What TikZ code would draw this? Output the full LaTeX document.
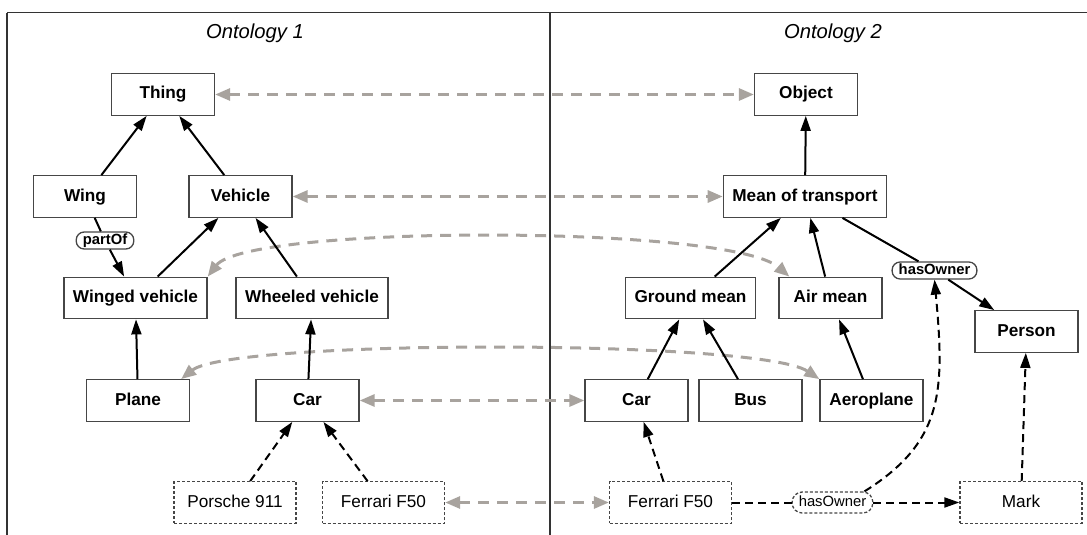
\documentclass[tikz,border=0pt]{standalone}
\usepackage{xcolor}
\usepackage{fontspec}
\setmainfont{Liberation Sans}
\usepackage{tikz}
\usetikzlibrary{arrows.meta}

\definecolor{mapgray}{RGB}{168,163,158}
\definecolor{boxline}{RGB}{70,70,70}

\tikzset{
    cls/.style={draw=boxline, line width=0.65pt, fill=white, minimum width=51.5pt, minimum height=20.75pt, inner xsep=4.5pt, inner ysep=0pt, text height=6.3pt, text depth=1.8pt, font=\fontsize{8.6}{10}\selectfont\bfseries},
    inst/.style={draw=boxline, line width=0.65pt, dash pattern=on 1.5pt off 1pt, fill=white, minimum width=61pt, minimum height=20.75pt, inner sep=0pt, text height=6.3pt, text depth=1.8pt, font=\fontsize{8.6}{10}\selectfont},
    rel/.style={draw=boxline, line width=0.65pt, rounded corners=4pt, fill=white, inner xsep=3.3pt, inner ysep=0pt, minimum height=8.5pt, text height=5.3pt, text depth=1.5pt, font=\fontsize{7.4}{8}\selectfont\bfseries},
    relinst/.style={rel, dash pattern=on 1.5pt off 1pt, rounded corners=5pt, minimum height=10.5pt, font=\fontsize{7.4}{8}\selectfont},
    title/.style={font=\fontsize{10.1}{12}\selectfont\itshape},
    frame/.style={draw=black!80, line width=0.75pt},
    isa/.style={draw=black, line width=1pt, -{Triangle[length=7.5pt,width=5pt]}},
    io/.style={isa, dash pattern=on 4pt off 2.5pt},
    map/.style={draw=mapgray, line width=1.5pt, dash pattern=on 5.5pt off 4pt, {Triangle[length=7.5pt,width=6pt]}-{Triangle[length=7.5pt,width=6pt]}}
}

\begin{document}
\begin{tikzpicture}[x=0.5pt, y=-0.5pt]
    \useasboundingbox (0,0) rectangle (1087,535);

    % Frame
    \draw[frame] (7,12.7) -- (1087,12.7);
    \draw[frame] (7,12.7) -- (7,535);
    \draw[frame] (550,12.7) -- (550,535);
    \node[title] (ontA) at (255,33) {Ontology 1};
    \node[title] (ontB) at (833,33) {Ontology 2};

    % Ontology 1
    \node[cls] (thing) at (163,94.5) {Thing};
    \node[cls] (wing) at (85,196.5) {Wing};
    \node[cls] (vehicle) at (240.5,196.5) {Vehicle};
    \node[cls] (winged) at (135.5,298) {Winged vehicle};
    \node[cls] (wheeled) at (312,298) {Wheeled vehicle};
    \node[cls] (plane) at (138,400.5) {Plane};
    \node[cls] (carA) at (307.5,400.5) {Car};
    \node[inst] (porsche) at (235,502.5) {Porsche 911};
    \node[inst] (ferrariA) at (383.5,502.5) {Ferrari F50};
    \node[rel] (partof) at (105,240.5) {partOf};

    % Ontology 2
    \node[cls] (object) at (806,94.5) {Object};
    \node[cls] (transport) at (805,196.5) {Mean of transport};
    \node[cls] (ground) at (690.5,298) {Ground mean};
    \node[cls] (air) at (830.5,298) {Air mean};
    \node[cls] (person) at (1026.5,331.5) {Person};
    \node[cls] (carB) at (636.5,400.5) {Car};
    \node[cls] (bus) at (750.5,400.5) {Bus};
    \node[cls] (aeroplane) at (871.5,400.5) {Aeroplane};
    \node[inst] (ferrariB) at (670.5,502.5) {Ferrari F50};
    \node[inst] (mark) at (1021,502.5) {Mark};
    \node[rel] (ownA) at (934.5,270.5) {hasOwner};
    \node[relinst] (ownB) at (832.5,502.5) {hasOwner};

    % Mappings
    \draw[map] (thing) -- (object);
    \draw[map] (vehicle) -- (transport);
    \draw[map] (winged.north east) .. controls +(40,-52) and +(-60,-52) .. ([xshift=5.5pt]air.north west);
    \draw[map] ([xshift=-4.5pt]plane.north east) .. controls +(50,-40) and +(-60,-40) .. (aeroplane.north west);
    \draw[map] (carA) -- (carB);
    \draw[map] (ferrariA) -- (ferrariB);

    % Subclass edges
    \draw[isa] (wing) -- (thing);
    \draw[isa] (vehicle) -- (thing);
    \draw[isa, -] (wing) -- (partof);
    \draw[isa] (partof) -- (winged);
    \draw[isa] (winged) -- (vehicle);
    \draw[isa] (wheeled) -- (vehicle);
    \draw[isa] (plane) -- (winged);
    \draw[isa] (carA) -- (wheeled);
    \draw[isa] (transport) -- (object);
    \draw[isa] (ground) -- (transport);
    \draw[isa] (air) -- (transport);
    \draw[isa, -] (transport) -- (ownA);
    \draw[isa] (ownA) -- (person);
    \draw[isa] (carB) -- (ground);
    \draw[isa] (bus) -- (ground);
    \draw[isa] (aeroplane) -- (air);

    % Instances
    \draw[io] (porsche) -- (carA);
    \draw[io] (ferrariA) -- (carA);
    \draw[io] (ferrariB) -- (carB);
    \draw[io, -] (ferrariB) -- (ownB);
    \draw[io] (ownB) -- (mark);
    \draw[io] ([xshift=-4.5pt]ownB.north east) .. controls +(80,-50) and +(10,110) .. (ownA.south);
    \draw[io] (mark) -- (person);
\end{tikzpicture}
\end{document}
